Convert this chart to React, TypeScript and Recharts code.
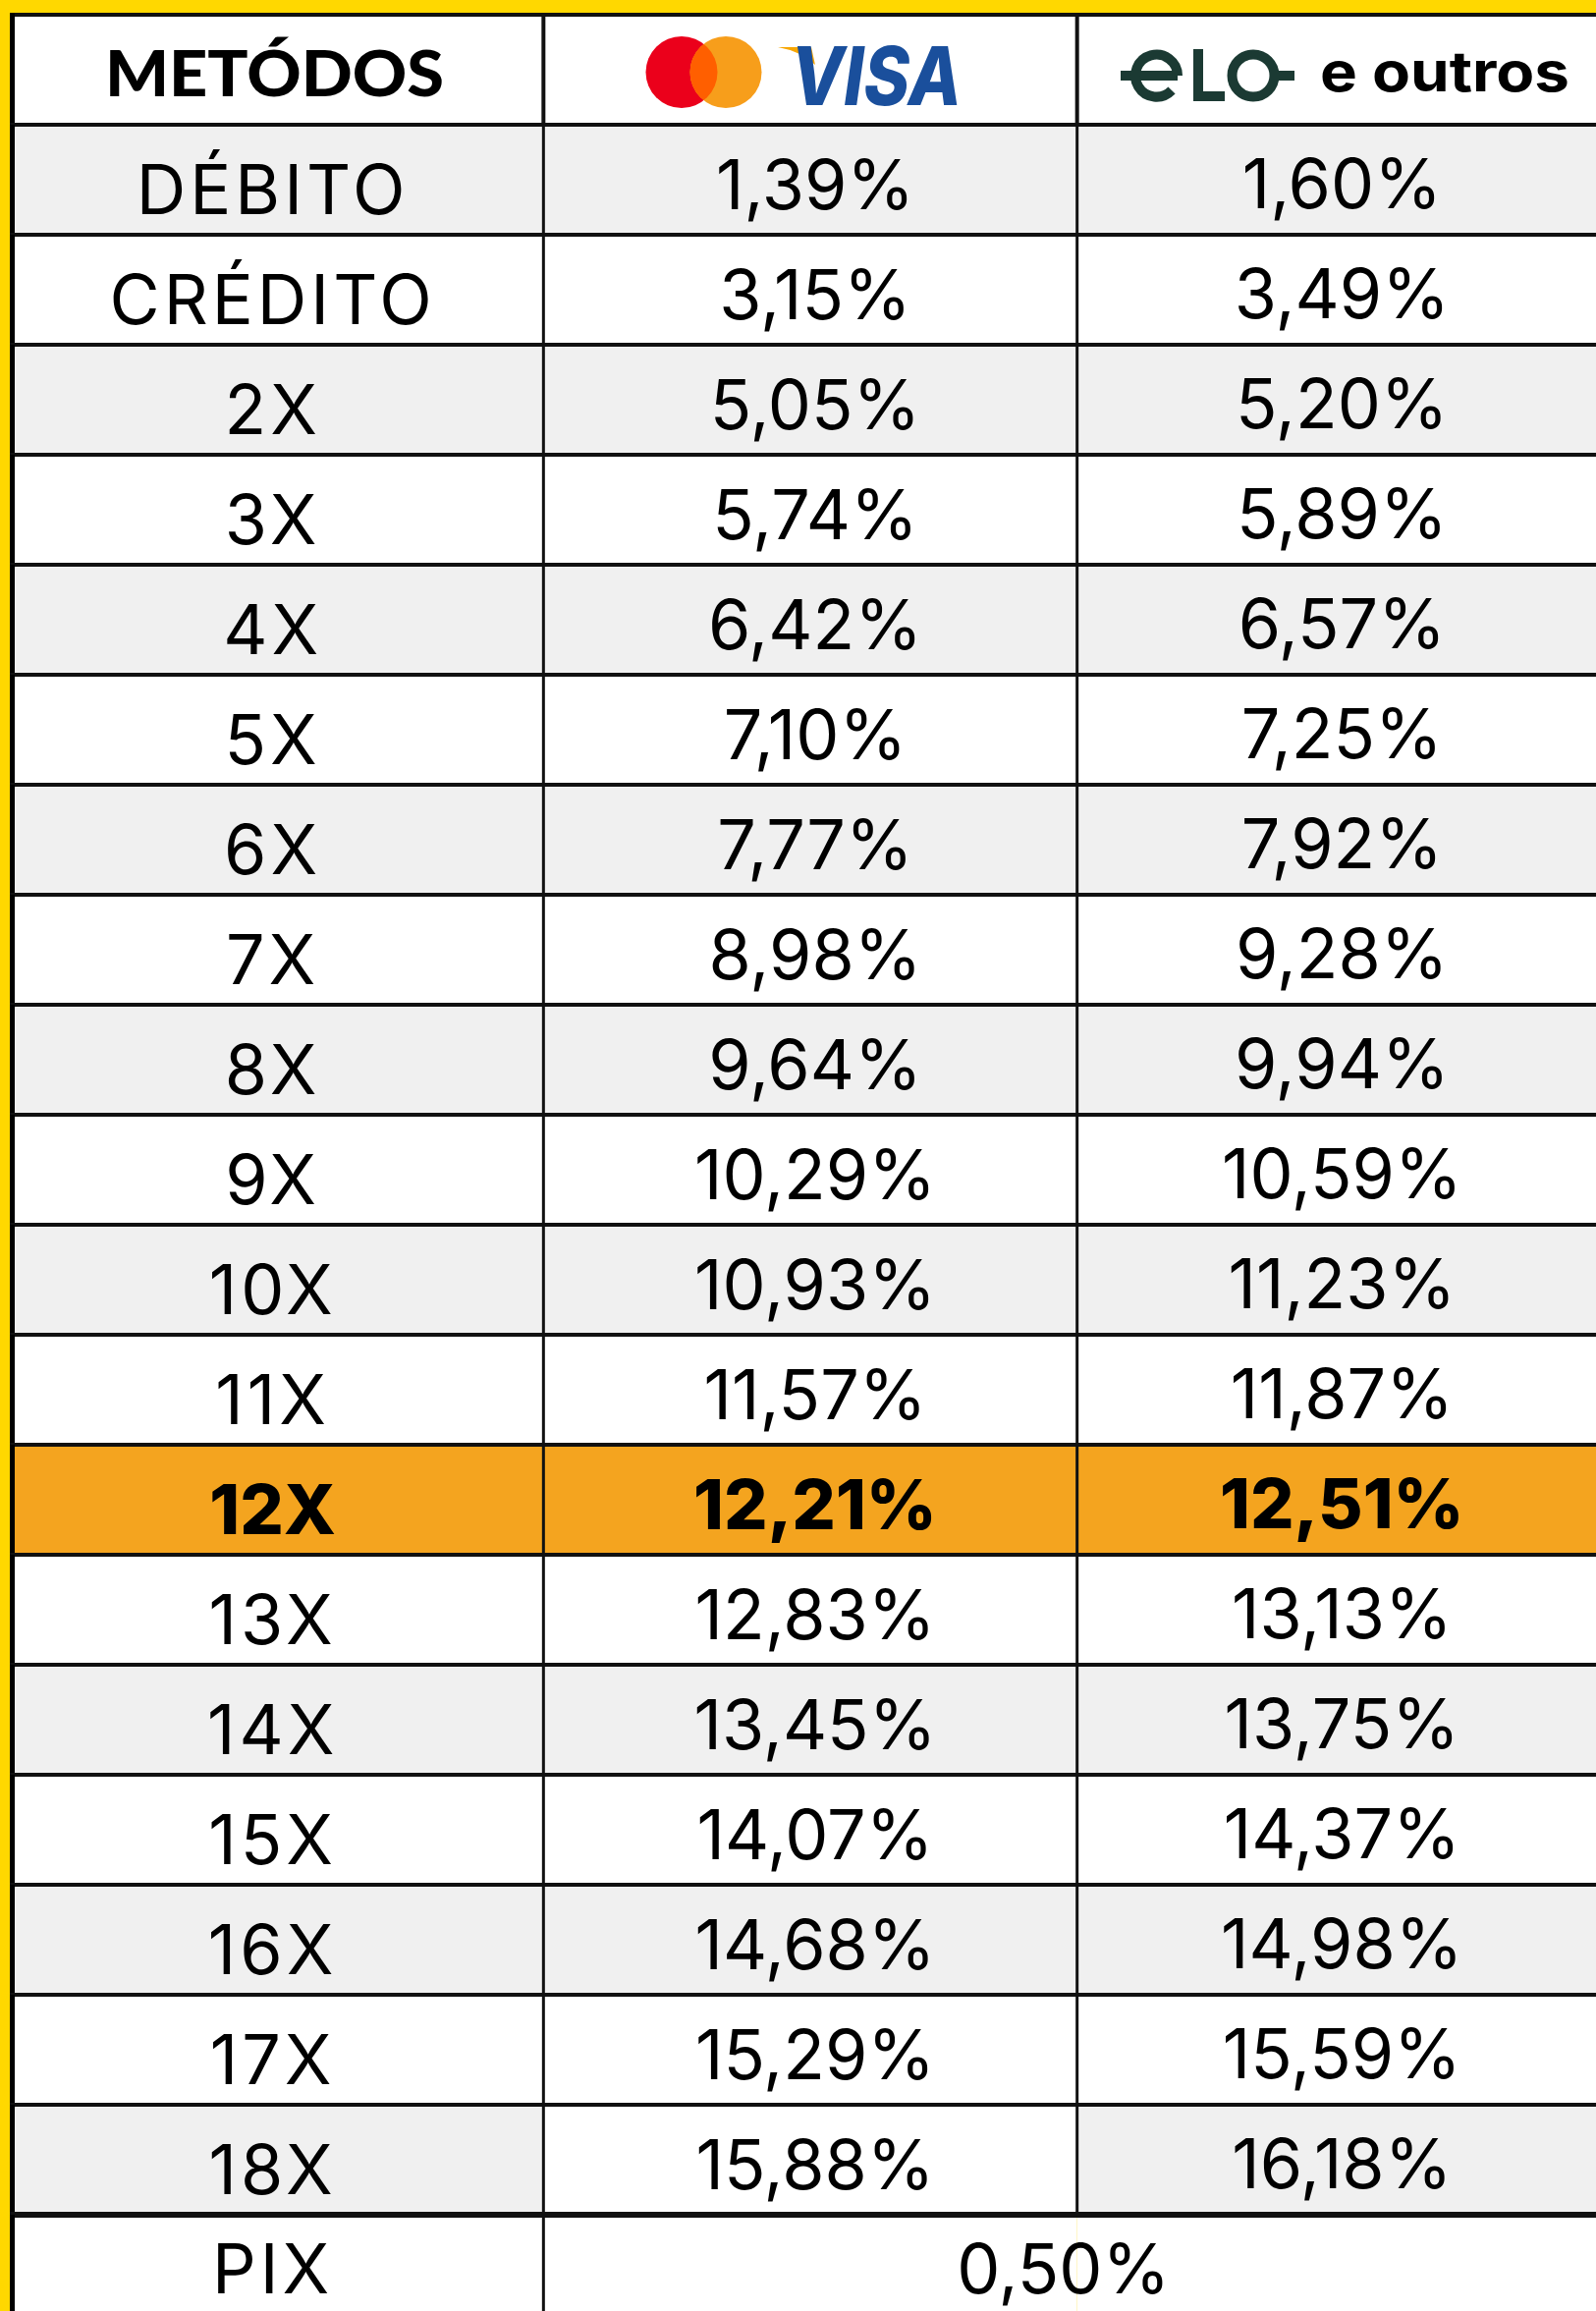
import React from 'react';
import { BarChart, Bar, XAxis, YAxis, Customized } from 'recharts';

const methods = ['DÉBITO', 'CRÉDITO', '2X', '3X', '4X', '5X', '6X', '7X', '8X', '9X', '10X', '11X', '12X', '13X', '14X', '15X', '16X', '17X', '18X', 'PIX'];
const visaRates = [1.39, 3.15, 5.05, 5.74, 6.42, 7.10, 7.77, 8.98, 9.64, 10.29, 10.93, 11.57, 12.21, 12.83, 13.45, 14.07, 14.68, 15.29, 15.88, 0.50];
const eloRates = [1.60, 3.49, 5.20, 5.89, 6.57, 7.25, 7.92, 9.28, 9.94, 10.59, 11.23, 11.87, 12.51, 13.13, 13.75, 14.37, 14.98, 15.59, 16.18, 0.50];
const headerTitle = 'METÓDOS';
const eloSuffix = 'e outros';
const highlightMethod = '12X';
const mergedMethod = 'PIX';

const data = methods.map((m, i) => ({ method: m, visa: visaRates[i], elo: eloRates[i] }));

const W = 1650;
const H = 2370;
const MARGIN = { top: 127, left: 10, right: W - 1640, bottom: H - 2367 };
const YELLOW = '#FFD800';
const GREY = '#F0F0F0';
const ORANGE = '#F4A41F';
const LINE = '#111111';
const FONT = 'Inter, "Noto Sans", sans-serif';

const fmt = (v: number) => v.toFixed(2).replace('.', ',') + '%';

const RowShape = (props: any) => {
  const { y, height, payload, index, background } = props;
  const left = background && background.width ? background.x : MARGIN.left;
  const width = background && background.width ? background.width : 1640 - MARGIN.left;
  const colW = width / 3;
  const c1 = left + colW;
  const c2 = left + 2 * colW;
  const right = left + width;
  const isHL = payload.method === highlightMethod;
  const isMerged = payload.method === mergedMethod;
  const stripe = index % 2 === 0 ? GREY : '#FFFFFF';
  const fill = isHL ? ORANGE : stripe;
  const midFill = isHL ? ORANGE : (index === 18 ? '#FFFFFF' : stripe);
  const weight = isHL ? 800 : 400;
  const fs = 70;
  const labelY = isMerged ? y + 80 : y + 91;
  const numY = isMerged ? y + 80 : y + 86;
  return (
    <g>
      <rect x={left} y={y} width={c1 - left} height={height} fill={fill} />
      <rect x={c1} y={y} width={c2 - c1} height={height} fill={isMerged ? fill : midFill} />
      <rect x={c2} y={y} width={right - c2} height={height} fill={fill} />
      <text x={(left + c1) / 2 - 4} y={labelY} textAnchor="middle" fontFamily={FONT} fontSize={fs} fontWeight={weight} letterSpacing={isHL ? 0 : 4} fill="#000">{payload.method}</text>
      {isMerged ? (
        <text x={(c1 + right) / 2 - 14} y={numY} textAnchor="middle" fontFamily={FONT} fontSize={fs} fontWeight={weight} fill="#000">{fmt(payload.visa)}</text>
      ) : (
        <>
          <text x={(c1 + c2) / 2 + 5} y={numY} textAnchor="middle" fontFamily={FONT} fontSize={fs} fontWeight={weight} fill="#000">{fmt(payload.visa)}</text>
          <text x={(c2 + right) / 2 - 2} y={numY - 1} textAnchor="middle" fontFamily={FONT} fontSize={fs} fontWeight={weight} fill="#000">{fmt(payload.elo)}</text>
        </>
      )}
      <line x1={c1} y1={y} x2={c1} y2={y + height} stroke={LINE} strokeWidth={3} />
      {!isMerged && <line x1={c2} y1={y} x2={c2} y2={y + height} stroke={LINE} strokeWidth={3} />}
      <line x1={left} y1={y} x2={right} y2={y} stroke={LINE} strokeWidth={isMerged ? 6 : 4} />
      <line x1={left + 2.5} y1={y} x2={left + 2.5} y2={y + height} stroke="#000" strokeWidth={5} />
    </g>
  );
};

const ELO_GREEN = '#1B3A33';

const Header = () => {
  const left = MARGIN.left;
  const width = 1640 - left;
  const colW = width / 3;
  const c1 = left + colW;
  const c2 = left + 2 * colW;
  return (
    <g>
      <rect x={left} y={15} width={width} height={MARGIN.top - 15} fill="#FFFFFF" />
      <text x={107} y={98} fontFamily='Lato, Inter, sans-serif' fontSize={64} fontWeight={900} fill="#000" textLength={345} lengthAdjust="spacingAndGlyphs">{headerTitle}</text>
      {/* Mastercard */}
      <defs>
        <clipPath id="mcRed"><circle cx={694} cy={73.5} r={36.5} /></clipPath>
      </defs>
      <circle cx={694} cy={73.5} r={36.5} fill="#EB001B" />
      <circle cx={739} cy={73.5} r={36.5} fill="#F79E1B" />
      <circle cx={739} cy={73.5} r={36.5} fill="#FF5F00" clipPath="url(#mcRed)" />
      {/* Visa */}
      <path d="M792,48 L826,48 L830,66 Q815,52 792,48 Z" fill="#F7A600" />
      <text x={805} y={107} fontFamily={FONT} fontSize={82} fontWeight={800} fontStyle="italic" fill="#1A4F9C" textLength={174} lengthAdjust="spacingAndGlyphs">VISA</text>
      {/* Elo */}
      <g stroke={ELO_GREEN} strokeWidth={10} fill="none">
        <line x1={1141} y1={77} x2={1199} y2={77} />
        <path d="M1199,77 A21.5,21.5 0 1 0 1193,92" />
        <path d="M1220,50 L1220,98 L1247,98" />
        <circle cx={1276} cy={77} r={21.5} />
        <line x1={1297} y1={77} x2={1318} y2={77} />
      </g>
      <text x={1344} y={93} fontFamily={FONT} fontSize={56} fontWeight={700} fill="#000" textLength={254} lengthAdjust="spacingAndGlyphs">{eloSuffix}</text>
      <line x1={left} y1={15} x2={1640} y2={15} stroke={LINE} strokeWidth={4} />
      <line x1={c1} y1={15} x2={c1} y2={MARGIN.top} stroke={LINE} strokeWidth={4} />
      <line x1={c2} y1={15} x2={c2} y2={MARGIN.top} stroke={LINE} strokeWidth={4} />
      <line x1={left + 2.5} y1={13} x2={left + 2.5} y2={MARGIN.top} stroke="#000" strokeWidth={5} />
    </g>
  );
};

export default function App() {
  return (
    <div style={{ position: 'absolute', left: 0, top: 0, width: 1625, height: 2353, overflow: 'hidden', background: YELLOW }}>
      <BarChart
        width={W}
        height={H}
        data={data}
        layout="vertical"
        margin={MARGIN}
        barCategoryGap={0}
        barGap={0}
      >
        <XAxis type="number" hide domain={[0, 20]} />
        <YAxis type="category" dataKey="method" hide />
        <Bar dataKey="visa" shape={RowShape} isAnimationActive={false} />
        <Customized component={Header} />
      </BarChart>
    </div>
  );
}
